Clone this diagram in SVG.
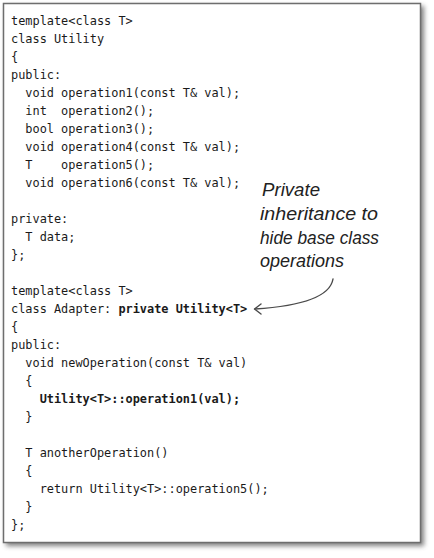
<svg xmlns="http://www.w3.org/2000/svg" width="434" height="558" viewBox="0 0 434 558">
  <defs>
    <filter id="shadow" x="-10%" y="-10%" width="120%" height="120%">
      <feGaussianBlur stdDeviation="2.5"/>
    </filter>
    <style>
      .code { font-family: "DejaVu Sans Mono", "Liberation Mono", monospace; font-size: 11.9px; fill: #1a1a1a; }
      .b { font-weight: bold; }
      .note { font-family: "Liberation Sans", Arial, sans-serif; font-style: italic; font-size: 19px; fill: #222; }
      .conn { fill: none; stroke: #4a4a4a; stroke-width: 1.4; stroke-linecap: round; stroke-linejoin: round; }
    </style>
  </defs>
  <rect width="434" height="558" fill="#ffffff"/>
  <g id="frame">
    <rect x="6" y="6" width="418" height="540" fill="#555" opacity="0.75" filter="url(#shadow)"/>
    <rect x="3.5" y="3.5" width="417" height="539" fill="#ffffff" stroke="#6e6e6e" stroke-width="1.5"/>
  </g>
  <g id="utility-class">
    <text class="code" x="11" y="25" xml:space="preserve">template&lt;class T&gt;</text>
    <text class="code" x="11" y="43" xml:space="preserve">class Utility</text>
    <text class="code" x="11" y="61" xml:space="preserve">{</text>
    <text class="code" x="11" y="79" xml:space="preserve">public:</text>
    <text class="code" x="11" y="97" xml:space="preserve">  void operation1(const T&amp; val);</text>
    <text class="code" x="11" y="115" xml:space="preserve">  int  operation2();</text>
    <text class="code" x="11" y="133" xml:space="preserve">  bool operation3();</text>
    <text class="code" x="11" y="151" xml:space="preserve">  void operation4(const T&amp; val);</text>
    <text class="code" x="11" y="169" xml:space="preserve">  T    operation5();</text>
    <text class="code" x="11" y="187" xml:space="preserve">  void operation6(const T&amp; val);</text>
    <text class="code" x="11" y="223" xml:space="preserve">private:</text>
    <text class="code" x="11" y="241" xml:space="preserve">  T data;</text>
    <text class="code" x="11" y="259" xml:space="preserve">};</text>
  </g>
  <g id="adapter-class">
    <text class="code" x="11" y="295" xml:space="preserve">template&lt;class T&gt;</text>
    <text class="code" x="11" y="313" xml:space="preserve">class Adapter: <tspan class="b">private Utility&lt;T&gt;</tspan></text>
    <text class="code" x="11" y="331" xml:space="preserve">{</text>
    <text class="code" x="11" y="349" xml:space="preserve">public:</text>
    <text class="code" x="11" y="367" xml:space="preserve">  void newOperation(const T&amp; val)</text>
    <text class="code" x="11" y="385" xml:space="preserve">  {</text>
    <text class="code b" x="11" y="403" xml:space="preserve">    Utility&lt;T&gt;::operation1(val);</text>
    <text class="code" x="11" y="421" xml:space="preserve">  }</text>
    <text class="code" x="11" y="457" xml:space="preserve">  T anotherOperation()</text>
    <text class="code" x="11" y="475" xml:space="preserve">  {</text>
    <text class="code" x="11" y="493" xml:space="preserve">    return Utility&lt;T&gt;::operation5();</text>
    <text class="code" x="11" y="511" xml:space="preserve">  }</text>
    <text class="code" x="11" y="529" xml:space="preserve">};</text>
  </g>
  <g id="note">
    <text class="note" x="262" y="196" textLength="58" lengthAdjust="spacingAndGlyphs">Private</text>
    <text class="note" x="260" y="220" textLength="118" lengthAdjust="spacingAndGlyphs">inheritance to</text>
    <text class="note" x="260" y="244" textLength="119" lengthAdjust="spacingAndGlyphs">hide base class</text>
    <text class="note" x="260" y="267" textLength="84" lengthAdjust="spacingAndGlyphs">operations</text>
  </g>
  <g id="connectors">
    <path class="conn" d="M333,279 C330,297 302,306 255,309"/>
    <polyline class="conn" points="261,304 254.5,309 261,314"/>
  </g>
</svg>
